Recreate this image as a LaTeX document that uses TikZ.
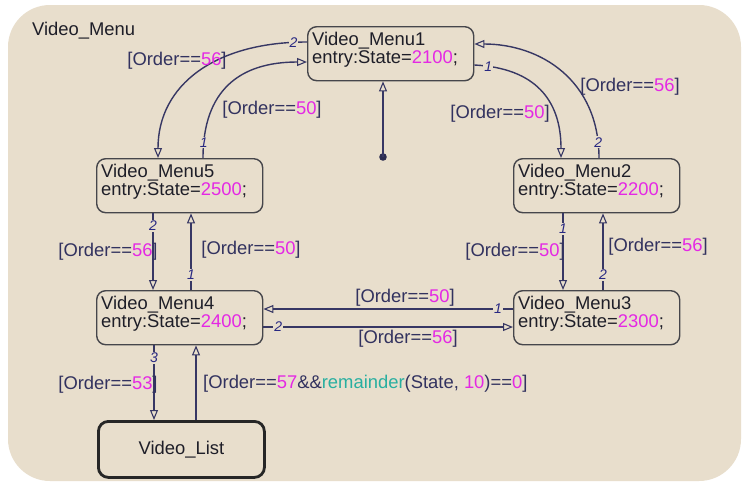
\documentclass[tikz,border=0pt]{standalone}
\usepackage{fontspec}
\setmainfont{Liberation Sans}
\usetikzlibrary{arrows.meta,calc}

\definecolor{chartbg}{RGB}{232,222,204}
\definecolor{edgeline}{RGB}{55,55,100}
\definecolor{labeltext}{RGB}{50,50,95}
\definecolor{statetext}{RGB}{30,30,40}
\definecolor{numpink}{RGB}{228,40,228}
\definecolor{fnteal}{RGB}{40,175,160}
\definecolor{boxline}{RGB}{70,70,75}
\definecolor{numlabel}{RGB}{40,40,130}

% guard text of a transition: [Order==<value>]
\newcommand{\guardtext}[1]{[Order==\textcolor{numpink}{#1}]}

\begin{document}
\begin{tikzpicture}[x=1pt,y=-1pt,
  font=\fontsize{18.4}{18}\selectfont,
  state/.style={draw=boxline, line width=1.4pt, rounded corners=9pt,
    minimum width=166pt, minimum height=54pt, inner sep=0pt, anchor=north west},
  liststate/.style={draw=black!85, line width=2.8pt, rounded corners=10pt,
    minimum width=166pt, minimum height=56pt, inner sep=0pt, anchor=north west,
    text=statetext},
  statelabel/.style={anchor=north west, align=left, inner sep=0pt, text=statetext},
  trans/.style={draw=edgeline, line width=1.4pt,
    -{Triangle[open, length=10pt, width=8pt, line width=1.1pt]}},
  num/.style={font=\fontsize{14}{14}\selectfont\itshape, text=numlabel,
    fill=chartbg, inner sep=1pt},
  guard/.style={text=labeltext, inner sep=0pt}
]
% canvas and chart background
\useasboundingbox (0,0) rectangle (749,485);
\fill[white] (0,0) rectangle (749,485);
\fill[chartbg, rounded corners=42pt] (8,5) rectangle (741,481);

\node[anchor=west, text=statetext, inner sep=0pt] (title) at (32,31) {Video\_Menu};

% states
\node[state] (m1) at (307,26) {};
\node[statelabel] (t1) at ($(m1.north west)+(5,6)$) {Video\_Menu1\\entry:State=\textcolor{numpink}{2100};};
\node[state] (m5) at (96,158) {};
\node[statelabel] (t5) at ($(m5.north west)+(5,6)$) {Video\_Menu5\\entry:State=\textcolor{numpink}{2500};};
\node[state] (m2) at (513,158) {};
\node[statelabel] (t2) at ($(m2.north west)+(5,6)$) {Video\_Menu2\\entry:State=\textcolor{numpink}{2200};};
\node[state] (m4) at (96,290) {};
\node[statelabel] (t4) at ($(m4.north west)+(5,6)$) {Video\_Menu4\\entry:State=\textcolor{numpink}{2400};};
\node[state] (m3) at (513,290) {};
\node[statelabel] (t3) at ($(m3.north west)+(5,6)$) {Video\_Menu3\\entry:State=\textcolor{numpink}{2300};};
\node[liststate] (ls) at (97,420) {Video\_List};

% default transition
\coordinate (dflt) at (383,157);
\fill[edgeline!80!black] (dflt) circle (3.8pt);
\draw[trans] (dflt) -- (dflt |- m1.south);

% Menu1 <-> Menu5
\draw[trans] ($(m1.north west)+(0,16)$) .. controls (215,42) and (158,85) ..
  ($(m5.north west)+(62,0)$) node[num, pos=0.05] (n15) {2};
\node[guard] (g15) at (177,61) {\guardtext{56}};
\draw[trans] ($(m5.north west)+(107,0)$) .. controls (203,90) and (240,62) ..
  ($(m1.north west)+(0,36)$) node[num, pos=0.08] (n51) {1};
\node[guard] (g51) at (272,110) {\guardtext{50}};

% Menu1 <-> Menu2
\draw[trans] ($(m1.north east)+(0,39)$) .. controls (535,68) and (561,100) ..
  ($(m2.north west)+(48,0)$) node[num, pos=0.08] (n12) {1};
\node[guard] (g12) at (500,114) {\guardtext{50}};
\draw[trans] ($(m2.north west)+(86,0)$) .. controls (599,80) and (540,44) ..
  ($(m1.north east)+(0,18)$) node[num, pos=0.07] (n21) {2};
\node[guard] (g21) at (630,87) {\guardtext{56}};

% Menu5 <-> Menu4
\draw[trans] ($(m5.south west)+(57,0)$) -- ($(m4.north west)+(57,0)$) node[num, pos=0.16] (n54) {2};
\node[guard] (g54) at (108,252) {\guardtext{56}};
\draw[trans] ($(m4.north west)+(95,0)$) -- ($(m5.south west)+(95,0)$) node[num, pos=0.2] (n45) {1};
\node[guard] (g45) at (251,250) {\guardtext{50}};

% Menu2 <-> Menu3
\draw[trans] ($(m2.south west)+(50,0)$) -- ($(m3.north west)+(50,0)$) node[num, pos=0.2] (n23) {1};
\node[guard] (g23) at (515,252) {\guardtext{50}};
\draw[trans] ($(m3.north west)+(90,0)$) -- ($(m2.south west)+(90,0)$) node[num, pos=0.2] (n32) {2};
\node[guard] (g32) at (658,247) {\guardtext{56}};

% Menu3 <-> Menu4
\draw[trans] ($(m3.north west)+(0,19)$) -- ($(m4.north east)+(0,19)$) node[num, pos=0.06] (n34) {1};
\node[guard] (g34) at (405,298) {\guardtext{50}};
\draw[trans] ($(m4.north east)+(0,37)$) -- ($(m3.north west)+(0,37)$) node[num, pos=0.06] (n43) {2};
\node[guard] (g43) at (408,339) {\guardtext{56}};

% Menu4 <-> Video_List
\draw[trans] ($(m4.south west)+(58,0)$) -- ($(ls.north west)+(57,0)$) node[num, pos=0.17] (n4l) {3};
\node[guard] (g4l) at (108,385) {\guardtext{53}};
\draw[trans] ($(ls.north west)+(99,0)$) -- ($(m4.south west)+(100,0)$);
\node[guard, anchor=west] (gl4) at (203,384)
  {[Order==\textcolor{numpink}{57}\&\&\textcolor{fnteal}{remainder}(State, \textcolor{numpink}{10})==\textcolor{numpink}{0}]};
\end{tikzpicture}
\end{document}
